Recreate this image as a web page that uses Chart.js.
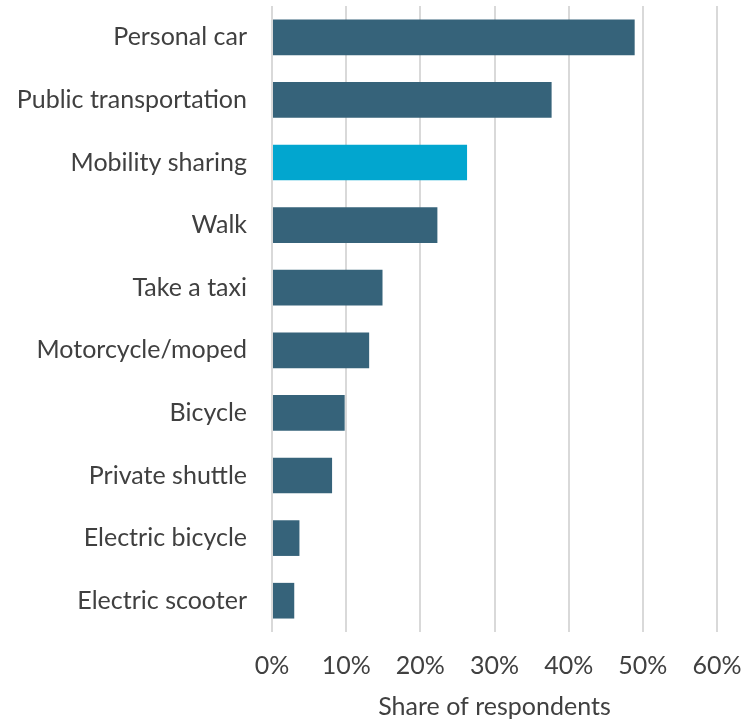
<!DOCTYPE html>
<html>
<head>
<meta charset="utf-8">
<script src="https://cdn.jsdelivr.net/npm/chart.js@4.4.1/dist/chart.umd.min.js"></script>
<style>
  html, body { margin: 0; padding: 0; background: #ffffff; }
  #wrap { width: 753px; height: 721px; position: relative; }
</style>
</head>
<body>
<div id="wrap"><canvas id="chart"></canvas></div>
<script>
// Transport modes and share of respondents (%)
const categories = [
  'Personal car',
  'Public transportation',
  'Mobility sharing',
  'Walk',
  'Take a taxi',
  'Motorcycle/moped',
  'Bicycle',
  'Private shuttle',
  'Electric bicycle',
  'Electric scooter'
];
const shares = [48.9, 37.7, 26.3, 22.3, 14.9, 13.1, 9.8, 8.1, 3.7, 3.0];
const highlighted = 'Mobility sharing';
const xTicks = [0, 10, 20, 30, 40, 50, 60];
const axisTitle = 'Share of respondents';

const baseColor = '#36637a';
const highlightColor = '#02a6cf';
const textColor = '#404040';
const fontFamily = 'Lato, "Open Sans", sans-serif';
const fontSize = 25;

new Chart(document.getElementById('chart'), {
  type: 'bar',
  data: {
    labels: categories,
    datasets: [{
      data: shares,
      backgroundColor: categories.map(c => c === highlighted ? highlightColor : baseColor),
      borderWidth: 0,
      barPercentage: 0.57,
      categoryPercentage: 1.0
    }]
  },
  options: {
    indexAxis: 'y',
    responsive: true,
    maintainAspectRatio: false,
    animation: false,
    layout: { padding: { top: 6, right: 36, bottom: 0, left: 0 } },
    plugins: {
      legend: { display: false },
      tooltip: { enabled: false }
    },
    scales: {
      x: {
        min: 0,
        max: 60,
        afterBuildTicks: s => { s.ticks = xTicks.map(v => ({ value: v })); },
        ticks: {
          color: textColor,
          font: { family: fontFamily, size: fontSize },
          padding: 19,
          maxRotation: 0,
          callback: v => v + '%'
        },
        grid: {
          color: '#d9d9d9',
          lineWidth: 2,
          drawTicks: false
        },
        border: { display: false },
        title: {
          display: true,
          text: axisTitle,
          color: textColor,
          font: { family: fontFamily, size: fontSize },
          padding: { top: 0, bottom: -1 }
        },
        afterFit: s => {
          s.height = 89;
          // edge labels may overhang; keep the plot width fixed
          s.paddingLeft = 0;
          s.paddingRight = 0;
        }
      },
      y: {
        ticks: {
          color: textColor,
          font: { family: fontFamily, size: fontSize },
          padding: 25
        },
        grid: { display: false, drawTicks: false },
        border: { display: false },
        afterFit: s => {
          s.width = 272;
          // label gap should not push the plot area down
          s.paddingTop = 0;
          s.paddingBottom = 0;
        }
      }
    }
  }
});
</script>
</body>
</html>
